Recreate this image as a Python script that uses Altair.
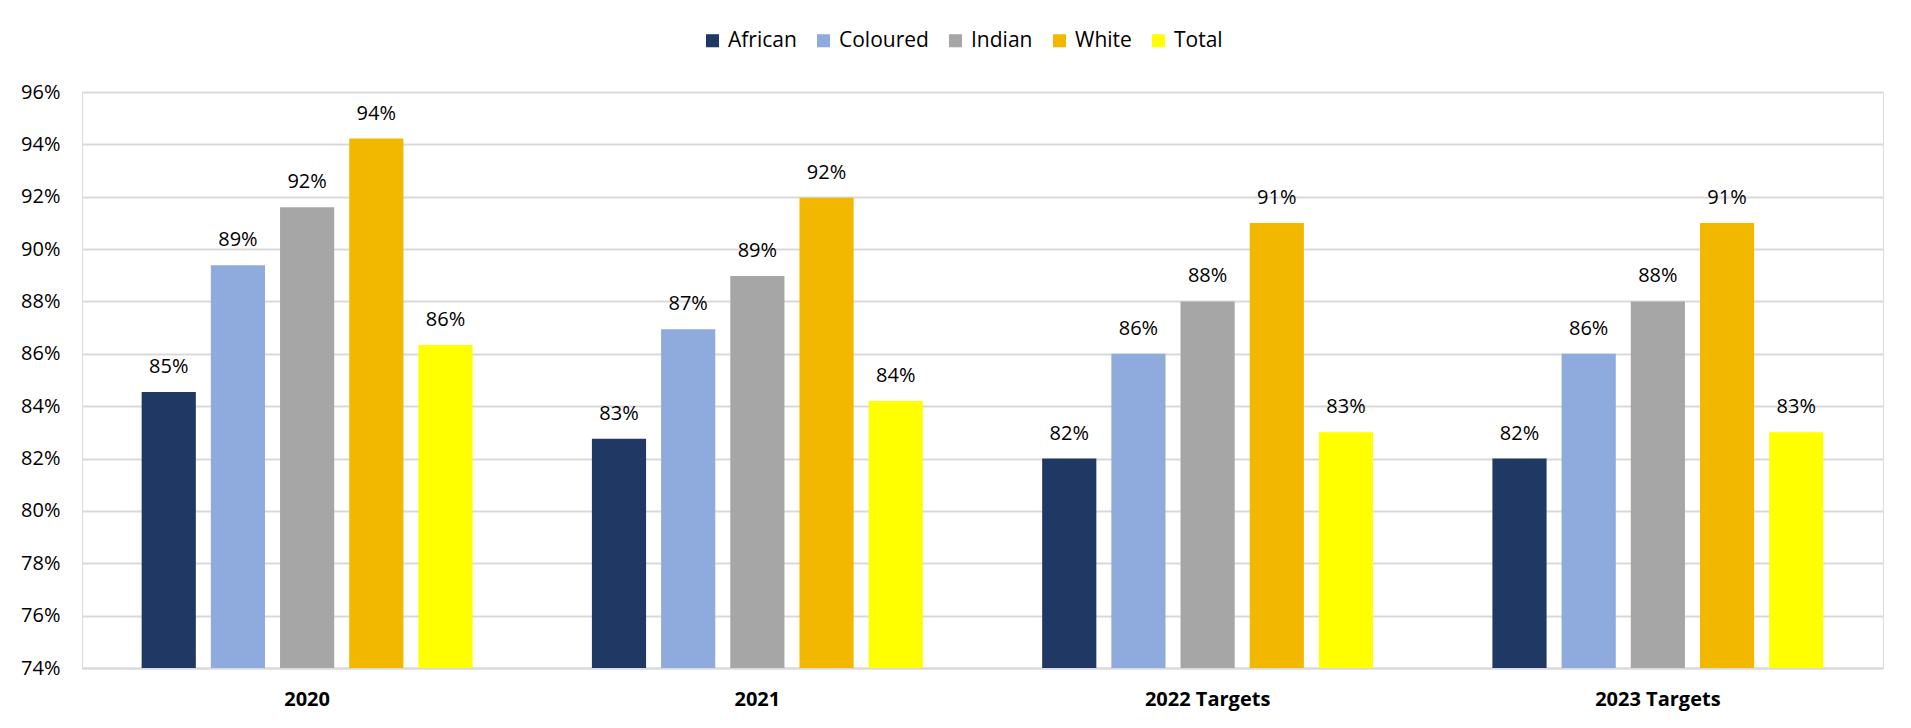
import altair as alt
import pandas as pd

years = ["2020", "2021", "2022 Targets", "2023 Targets"]
groups = ["African", "Coloured", "Indian", "White", "Total"]
colors = ["#203864", "#8FAADC", "#A6A6A6", "#F2B800", "#FFFF00"]

african = [0.8454, 0.8276, 0.82, 0.82]
coloured = [0.8938, 0.8694, 0.86, 0.86]
indian = [0.9160, 0.8897, 0.88, 0.88]
white = [0.9422, 0.9196, 0.91, 0.91]
total = [0.8634, 0.8420, 0.83, 0.83]

y_ticks = [0.74, 0.76, 0.78, 0.80, 0.82, 0.84, 0.86, 0.88, 0.90, 0.92, 0.94, 0.96]

series = {"African": african, "Coloured": coloured, "Indian": indian, "White": white, "Total": total}
rows = []
for g in groups:
    for yr, v in zip(years, series[g]):
        rows.append({"year": yr, "group": g, "value": v})
df = pd.DataFrame(rows)

FONT = "Open Sans"

x_enc = alt.X("year:N", sort=years, title=None,
              scale=alt.Scale(paddingInner=0.265, paddingOuter=0.1325),
              axis=alt.Axis(labelAngle=0, labelFont=FONT, labelFontSize=20, labelFontWeight="bold",
                            labelColor="#000000", labelPadding=21, ticks=False,
                            domainColor="#D9D9D9", domainWidth=2, grid=False))
xoff = alt.XOffset("group:N", sort=groups, scale=alt.Scale(paddingInner=0.217, paddingOuter=0))
y_enc = alt.Y("value:Q", title=None,
              scale=alt.Scale(domain=[0.74, 0.96], zero=False, nice=False, clamp=True),
              axis=alt.Axis(values=y_ticks, format=".0%", labelFont=FONT, labelFontSize=20,
                            labelColor="#000000", labelPadding=22, ticks=False, domain=False,
                            grid=True, gridColor="#D9D9D9", gridWidth=2))

bars = alt.Chart(df).mark_bar().encode(
    x=x_enc,
    xOffset=xoff,
    y=y_enc,
    color=alt.Color("group:N", sort=groups, title="",
                    scale=alt.Scale(domain=groups, range=colors),
                    legend=alt.Legend(orient="none", legendX=620, legendY=-62, direction="horizontal",
                                      columns=5, symbolType="square", symbolSize=170,
                                      symbolStrokeWidth=0, labelFont=FONT, labelFontSize=21,
                                      labelColor="#000000", columnPadding=16, labelOffset=5)),
)

labels = alt.Chart(df).mark_text(font=FONT, fontSize=20, color="#000000", baseline="alphabetic", dy=-19).encode(
    x=alt.X("year:N", sort=years),
    xOffset=alt.XOffset("group:N", sort=groups),
    y=alt.Y("value:Q"),
    text=alt.Text("value:Q", format=".0%"),
)

chart = alt.layer(bars, labels).properties(
    width=1801,
    height=576,
    padding={"left": 74, "top": 84, "right": 20, "bottom": 45},
    autosize=alt.AutoSizeParams(type="none"),
).configure_view(stroke=None).configure(background="#FFFFFF")

chart.save("out.html", embed_options={"renderer": "svg", "actions": False})
